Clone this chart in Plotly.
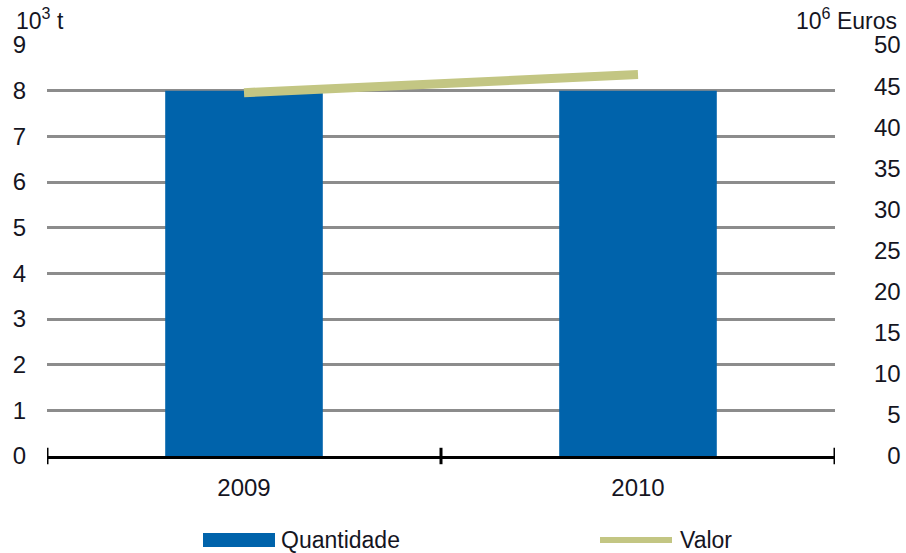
import plotly.graph_objects as go

years = ["2009", "2010"]
quantidade = [8.0, 8.0]      # 10^3 t
valor = [44.2, 46.4]         # 10^6 Euros

left_ticks = list(range(0, 10))
right_ticks = list(range(0, 55, 5))

FONT = "Liberation Sans, Arial, sans-serif"
BAR_COLOR = "#0063ab"
LINE_COLOR = "#c3c683"
GRID_COLOR = "#8c8c8c"

# plot area in pixels: x 47..835, y 45..456
PW, PH = 788.0, 411.0


def px(x):
    return (x - 47) / PW


def py(y):
    return (456 - y) / PH


fig = go.Figure()
fig.add_trace(
    go.Bar(
        x=years,
        y=quantidade,
        name="Quantidade",
        marker=dict(color=BAR_COLOR, line=dict(width=0)),
        yaxis="y",
        showlegend=False,
    )
)
fig.add_trace(
    go.Scatter(
        x=years,
        y=valor,
        name="Valor",
        mode="lines",
        line=dict(color=LINE_COLOR, width=9),
        yaxis="y2",
        showlegend=False,
    )
)

# tick marks crossing the category axis at the category boundaries
for i in range(len(years) + 1):
    fig.add_shape(
        type="line",
        xref="x",
        yref="paper",
        x0=i - 0.5,
        x1=i - 0.5,
        y0=-0.02,
        y1=0.02,
        line=dict(color="black", width=3),
    )

# legend keys
fig.add_shape(
    type="rect", xref="paper", yref="paper",
    x0=px(203), x1=px(275), y0=py(547), y1=py(533),
    fillcolor=BAR_COLOR, line=dict(width=0),
)
fig.add_shape(
    type="line", xref="paper", yref="paper",
    x0=px(600), x1=px(672), y0=py(540), y1=py(540),
    line=dict(color=LINE_COLOR, width=6),
)

fig.update_layout(
    width=906,
    height=553,
    margin=dict(l=47, r=71, t=45, b=97, autoexpand=False),
    plot_bgcolor="white",
    paper_bgcolor="white",
    font=dict(family=FONT, size=24, color="#15151f"),
    bargap=0.6,
    showlegend=False,
    xaxis=dict(
        range=[-0.5, 1.5],
        showline=True,
        linecolor="black",
        linewidth=3,
        ticks="",
        ticklabelstandoff=8,
        showgrid=False,
    ),
    yaxis=dict(
        range=[0, 9],
        tickvals=left_ticks,
        showgrid=True,
        gridcolor=GRID_COLOR,
        gridwidth=3,
        zeroline=False,
        ticks="",
        ticklabelstandoff=20,
    ),
    yaxis2=dict(
        range=[0, 50],
        overlaying="y",
        side="right",
        tickvals=right_ticks,
        ticktext=[("\u2007" + str(v)) if v < 10 else str(v) for v in right_ticks],
        showgrid=False,
        zeroline=False,
        ticks="",
        ticklabelstandoff=38,
    ),
    annotations=[
        dict(
            text="10<sup>3</sup> t",
            xref="paper", yref="paper",
            x=px(14), y=py(36),
            xanchor="left", yanchor="bottom",
            showarrow=False, font=dict(size=23),
        ),
        dict(
            text="10<sup>6</sup> Euros",
            xref="paper", yref="paper",
            x=px(899), y=py(36),
            xanchor="right", yanchor="bottom",
            showarrow=False, font=dict(size=23),
        ),
        dict(
            text="Quantidade",
            xref="paper", yref="paper",
            x=px(279), y=py(540),
            xanchor="left", yanchor="middle",
            showarrow=False, font=dict(size=23),
        ),
        dict(
            text="Valor",
            xref="paper", yref="paper",
            x=px(678), y=py(540),
            xanchor="left", yanchor="middle",
            showarrow=False, font=dict(size=23),
        ),
    ],
)

fig.write_html(
    "out.html",
    config={"displayModeBar": False},
    post_script="document.body.style.margin='0';",
)
